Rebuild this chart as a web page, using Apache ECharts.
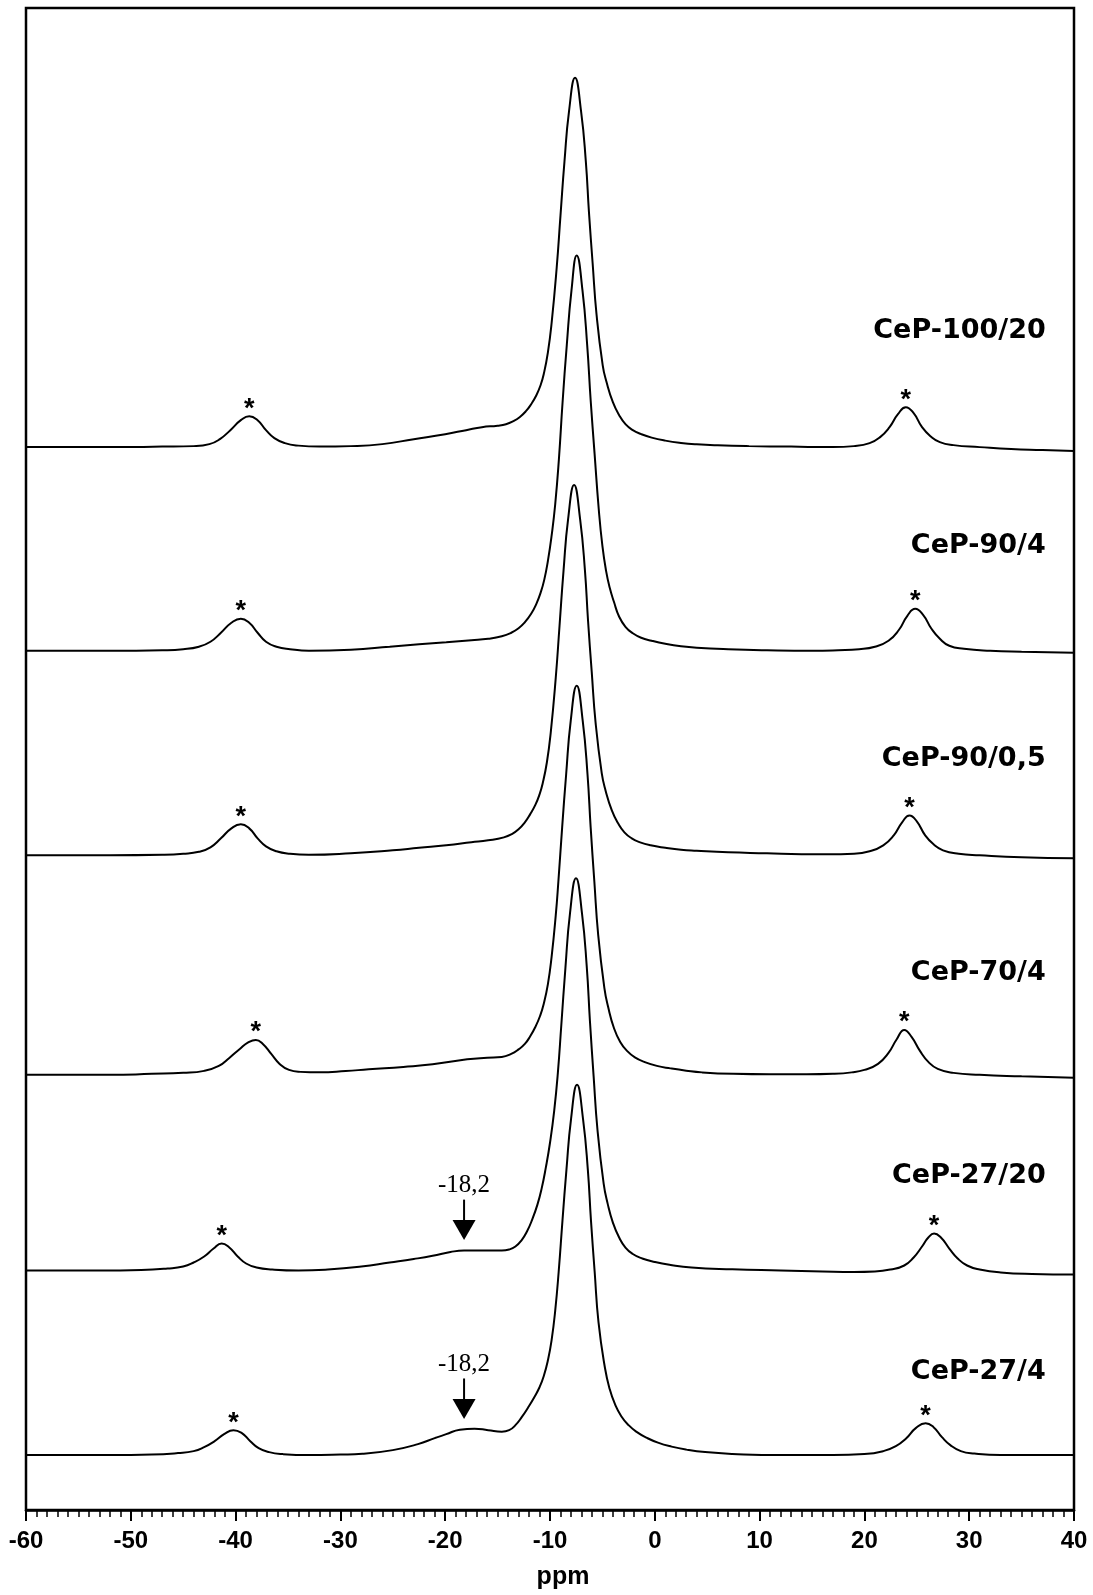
<!DOCTYPE html>
<html>
<head>
<meta charset="utf-8">
<script src="https://cdn.jsdelivr.net/npm/echarts@6/dist/echarts.min.js"></script>
<style>
  html, body { margin: 0; padding: 0; background: #fff; }
  #chart { width: 1093px; height: 1595px; }
</style>
</head>
<body>
<div id="chart"></div>
<script>
// 31P MAS NMR spectra of the CeP samples, stacked top to bottom.
// Each trace: [chemical shift (ppm), intensity above its own baseline (a.u.)].
const cep100_20 = [[-60,0],[-52,0],[-47,0.5],[-44,1],[-42.5,3],[-41.5,8],[-40.5,17],[-39.5,27],[-38.7,31],[-37.9,27],[-37.1,17],[-36.3,9],[-35.3,4],[-34,1.5],[-32,0.5],[-29,1],[-26,3],[-23,8],[-20,13],[-18,17],[-16.5,20],[-15,21.5],[-14.2,23],[-13.5,26],[-12.9,30],[-12.3,36],[-11.8,43],[-11.3,52],[-10.9,62],[-10.6,73],[-10.2,95],[-9.84,125],[-9.36,180],[-9.0,232],[-8.62,286],[-8.18,337],[-7.61,370],[-7.04,337],[-6.58,286],[-6.28,235],[-5.93,184],[-5.56,133],[-4.97,82],[-4.6,65],[-4.0,45],[-3.4,32],[-2.8,23],[-2.1,17],[-1.3,13],[-0.3,9.5],[1,6.5],[2.5,4.2],[4,2.8],[6,1.8],[9,1],[13,0.5],[17,0],[19,1],[20.5,4],[21.5,10],[22.4,20],[23.2,33],[23.95,40],[24.7,34],[25.5,20],[26.3,11],[27.2,5],[28.5,2],[31,0],[34,-2],[37,-3],[40,-4]];

const cep90_4 = [[-60,0],[-52,0],[-47,0.5],[-45,1.5],[-43.5,4],[-42.4,9],[-41.4,18],[-40.4,28],[-39.5,32],[-38.7,28],[-37.9,18],[-37.1,9],[-36.1,4],[-34.8,1.5],[-33,0],[-29,1],[-25.3,4],[-22.5,6.5],[-19.9,8.5],[-17.5,10.5],[-15.9,12],[-14.6,14.5],[-13.7,18],[-13.0,22.5],[-12.4,28.5],[-11.8,37],[-11.3,47],[-10.9,58],[-10.55,71],[-10.2,90],[-9.85,115],[-9.5,147],[-9.15,192],[-8.8,249],[-8.4,306],[-7.95,361],[-7.45,396],[-6.9,361],[-6.45,306],[-6.12,251],[-5.75,198],[-5.35,142],[-5.0,105],[-4.65,80],[-4.3,63],[-3.9,49],[-3.4,34],[-2.8,24],[-2.1,17.5],[-1.3,13],[-0.3,10],[1,7],[2.5,4.5],[4,3],[7,1.5],[10.7,0.5],[15,0],[17.5,0.5],[19.5,1.5],[21,4],[22.3,10],[23.3,21],[24.1,35],[24.85,42],[25.6,36],[26.4,22],[27.2,12],[28.1,5],[29.5,2],[32,0],[35,-1],[40,-2]];

const cep90_05 = [[-60,0],[-52,0],[-47,0.5],[-45,1.5],[-43.5,3.5],[-42.4,8],[-41.4,17],[-40.4,27],[-39.5,31],[-38.7,27],[-37.9,17],[-37.1,9],[-36.1,4],[-34.8,1.5],[-33,0.5],[-29,2],[-25,5],[-22.5,7.5],[-19.9,10],[-17.5,13],[-15.9,15],[-14.4,18],[-13.6,21.5],[-13.0,26],[-12.4,33],[-11.9,41],[-11.4,50.5],[-11.0,61],[-10.7,72],[-10.3,93],[-9.93,123],[-9.45,178],[-9.09,230],[-8.71,285],[-8.27,337],[-7.7,371],[-7.13,337],[-6.67,286],[-6.37,235],[-6.02,184],[-5.65,133],[-5.06,82],[-4.7,65],[-4.1,45],[-3.5,32],[-2.9,23],[-2.2,17],[-1.4,13],[-0.4,10],[1,7.5],[2.5,5.5],[4,4.5],[7,3],[10.7,2],[14,1],[16.5,1],[19,1.5],[20.5,4],[21.8,10],[22.8,20],[23.6,33],[24.3,40],[25.0,34],[25.8,20],[26.6,11],[27.5,5],[29,1.5],[31,0],[35,-2],[40,-3]];

const cep70_4 = [[-60,0],[-52,0],[-48,1],[-45,2],[-43,4],[-41.6,9],[-40.6,17],[-39.6,26],[-38.8,32.5],[-38.07,35],[-37.4,31],[-36.6,21],[-35.8,11],[-34.9,5],[-33.8,3],[-32,2.5],[-29.5,3.8],[-27.3,5.6],[-24,8],[-21.2,10.6],[-17.9,15.6],[-16,17.2],[-14.6,18],[-13.7,21],[-13.0,25.5],[-12.4,31],[-11.9,38.5],[-11.4,48],[-10.95,59],[-10.6,71],[-10.2,91],[-9.85,118],[-9.45,160],[-9.2,194],[-8.84,248],[-8.46,301],[-8.02,355],[-7.45,390],[-6.88,355],[-6.42,301],[-6.12,248],[-5.77,194],[-5.4,140],[-4.81,87],[-4.45,68],[-3.9,47],[-3.3,33],[-2.6,23.5],[-1.9,17.5],[-1.0,13],[0.2,9],[1.5,6.5],[3,4.2],[4.5,2.5],[7.5,1],[11,0.5],[14.5,0.5],[17,1],[18.8,2.5],[20,5],[21.3,11],[22.3,22],[23.1,36],[23.8,45],[24.5,38],[25.3,24],[26.1,13],[27,6],[28.5,2],[31,0],[35,-1.5],[40,-3]];

const cep27_20 = [[-60,0],[-53,0],[-49,0.5],[-46.5,2],[-45,4],[-44,8],[-43,14],[-42.1,22],[-41.33,27],[-40.6,23],[-39.8,14],[-39,7],[-38,3],[-36.5,1],[-34,0],[-31.2,1],[-28,4],[-25.3,8],[-23,11.5],[-21.2,14.7],[-19.5,18.5],[-18.2,20],[-16.5,20],[-14.6,20],[-13.9,21],[-13.3,24],[-12.7,30.5],[-12.2,39],[-11.7,51],[-11.2,66],[-10.8,82],[-10.4,103],[-10.0,128],[-9.6,160],[-9.25,198],[-8.92,246],[-8.53,303],[-8.09,358],[-7.52,393],[-6.95,358],[-6.49,304],[-6.19,250],[-5.84,195],[-5.47,141],[-4.88,87],[-4.5,67],[-4.0,48],[-3.4,33],[-2.8,23],[-2.1,16.5],[-1.2,12],[0,8.5],[1.4,5.7],[3.5,3],[7.4,1.2],[12,0],[16,-1],[19,-1.5],[21,-1],[22.5,1],[23.8,5],[24.7,13],[25.5,24],[26.1,33],[26.65,37],[27.3,33],[28.1,22],[28.9,12],[29.8,5],[31,1],[33,-2],[36,-3.5],[40,-4]];

const cep27_4 = [[-60,0],[-52,0],[-48,0.5],[-45.5,2],[-44,4],[-43,8],[-42,14],[-41.1,21],[-40.2,25],[-39.4,22],[-38.6,14],[-37.8,7],[-36.8,3],[-35.5,1],[-33,0],[-30,0.5],[-27.9,1.3],[-25,5],[-22.6,11],[-21,17],[-19.9,21],[-18.6,25.5],[-17.2,26.5],[-15.9,25],[-14.6,23.5],[-13.9,25],[-13.3,30],[-12.7,38],[-12.1,47.5],[-11.5,58],[-11.0,68],[-10.6,79],[-10.2,95],[-9.85,115],[-9.5,145],[-9.17,184],[-8.81,235],[-8.43,286],[-7.99,337],[-7.42,371],[-6.85,337],[-6.39,286],[-6.09,235],[-5.74,184],[-5.37,133],[-4.75,87],[-4.3,66],[-3.8,51],[-3.2,39],[-2.5,30],[-1.7,23],[-0.8,17.5],[0.3,12.5],[1.6,8.5],[3,5.5],[4.8,3],[7.4,1.2],[12,0],[17,0],[20,1],[21.8,4],[23,9],[24,17],[24.9,27],[25.84,32],[26.6,28],[27.4,18],[28.2,10],[29.2,4],[30.5,1.5],[33,0],[40,0]];

const sampleNames = ['CeP-100/20', 'CeP-90/4', 'CeP-90/0,5', 'CeP-70/4', 'CeP-27/20', 'CeP-27/4'];
const spectra = [cep100_20, cep90_4, cep90_05, cep70_4, cep27_20, cep27_4];

// spinning sidebands marked with an asterisk (ppm), per sample
const sidebandShifts = [[-38.7, 23.95], [-39.5, 24.85], [-39.5, 24.3], [-38.07, 23.8], [-41.33, 26.65], [-40.2, 25.84]];

// shoulder pointed out with an arrow in the CeP-27 samples
const shoulderShift = -18.2;
const shoulderSamples = ['CeP-27/20', 'CeP-27/4'];

// chemical shift axis
const ppmMin = -60, ppmMax = 40, ppmStep = 10;

// ---- layout (vertical stacking, annotation spacing) ----
const stackHeight = 1505;                         // y-range of the plot area
const traceBaselines = [1065, 861, 656, 436, 240, 55];
const nameLift = [116, 105, 97, 102, 95, 83];     // sample name above baseline
const nameShift = 37.3;                           // right edge of sample names (ppm)
const starLift = 7;
const arrowTipGap = 10.5, arrowHeadLen = 20, arrowTop = 51, arrowTextLift = 65;

function valueAt(trace, x) {
  for (let i = 1; i < trace.length; i++) {
    const [x0, y0] = trace[i - 1], [x1, y1] = trace[i];
    if (x >= x0 && x <= x1) return y0 + (y1 - y0) * (x - x0) / (x1 - x0);
  }
  return 0;
}

const black = '#000';
const series = [];

spectra.forEach((trace, i) => {
  series.push({
    type: 'line',
    name: sampleNames[i],
    data: trace.map(([x, y]) => [x, y + traceBaselines[i]]),
    showSymbol: false,
    smooth: 0.5,
    lineStyle: { color: black, width: 2 },
    silent: true,
    z: 3
  });
});

const textBase = { color: black, opacity: 1, textBorderWidth: 0 };

// sample names
series.push({
  type: 'scatter',
  symbolSize: 0,
  silent: true,
  itemStyle: { opacity: 1 },
  data: sampleNames.map((n, i) => ({ name: n, value: [nameShift, traceBaselines[i] + nameLift[i]] })),
  label: Object.assign({
    show: true, position: 'inside', align: 'right', verticalAlign: 'middle',
    formatter: p => p.name,
    fontFamily: 'DejaVu Sans', fontWeight: 'bold', fontSize: 27
  }, textBase),
  z: 5
});

// asterisks above the spinning sidebands
const stars = [];
sidebandShifts.forEach((pair, i) => {
  pair.forEach(x => stars.push([x, traceBaselines[i] + valueAt(spectra[i], x) + starLift]));
});
series.push({
  type: 'scatter',
  symbolSize: 0,
  silent: true,
  itemStyle: { opacity: 1 },
  data: stars,
  label: Object.assign({
    show: true, position: 'inside', align: 'center', verticalAlign: 'middle',
    formatter: '*', fontFamily: 'Liberation Sans', fontWeight: 'bold', fontSize: 27
  }, textBase),
  z: 5
});

// arrows and shift labels on the shoulder
const shiftText = String(shoulderShift).replace('.', ',');
shoulderSamples.forEach(name => {
  const i = sampleNames.indexOf(name);
  const level = traceBaselines[i] + valueAt(spectra[i], shoulderShift);
  series.push({
    type: 'line',
    data: [[shoulderShift, level + arrowTop], [shoulderShift, level + arrowTipGap + arrowHeadLen - 2]],
    showSymbol: false,
    lineStyle: { color: black, width: 2 },
    silent: true,
    z: 4
  });
  series.push({
    type: 'scatter',
    symbol: 'triangle',
    symbolRotate: 180,
    symbolSize: [23, arrowHeadLen],
    itemStyle: { color: black, opacity: 1 },
    silent: true,
    data: [[shoulderShift, level + arrowTipGap + arrowHeadLen / 2]],
    z: 4
  });
  series.push({
    type: 'scatter',
    symbolSize: 0,
    silent: true,
    itemStyle: { opacity: 1 },
    data: [[shoulderShift, level + arrowTextLift]],
    label: Object.assign({
      show: true, position: 'inside', align: 'center', verticalAlign: 'middle',
      formatter: shiftText, fontFamily: 'Liberation Serif', fontSize: 25
    }, textBase),
    z: 5
  });
});

const chart = echarts.init(document.getElementById('chart'), null, { renderer: 'canvas' });
chart.setOption({
  animation: false,
  backgroundColor: '#fff',
  grid: { left: 26, right: 19, top: 8, bottom: 82, show: true, borderColor: black, borderWidth: 2.5 },
  xAxis: {
    type: 'value', min: ppmMin, max: ppmMax, interval: ppmStep,
    axisLine: { show: true, lineStyle: { color: black, width: 2.5 } },
    axisTick: { show: true, inside: false, length: 11, lineStyle: { color: black, width: 2 } },
    minorTick: { show: true, splitNumber: 10, length: 7, lineStyle: { color: black, width: 1.5 } },
    splitLine: { show: false },
    axisLabel: { color: black, fontFamily: 'Liberation Sans', fontWeight: 'bold', fontSize: 24, margin: 19 },
    name: 'ppm', nameLocation: 'middle', nameGap: 55,
    nameTextStyle: { color: black, fontFamily: 'Liberation Sans', fontWeight: 'bold', fontSize: 25, padding: [0, 0, 0, 26] }
  },
  yAxis: { type: 'value', min: 0, max: stackHeight, show: false },
  series: series
});
</script>
</body>
</html>
